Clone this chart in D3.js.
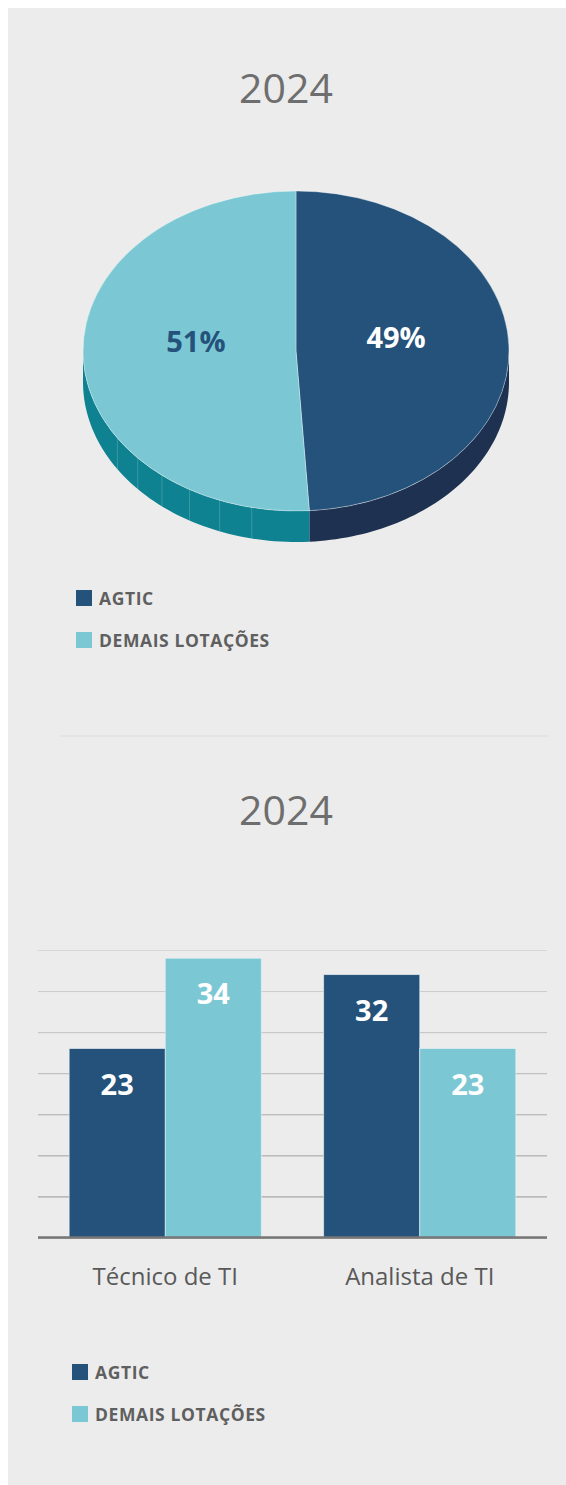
<!DOCTYPE html>
<html lang="pt">
<head>
<meta charset="utf-8">
<title>2024</title>
<style>
body {
  margin: 0;
  background: #ffffff;
}
svg text {
  font-family: "Open Sans", "Noto Sans", sans-serif;
}
.title {
  font-size: 41px;
  fill: #6e6e6e;
  text-anchor: middle;
}
.legend text {
  font-size: 17.5px;
  font-weight: 700;
  fill: #5f5f5f;
  letter-spacing: 0.6px;
}
.axis-x text {
  font-size: 24px;
  fill: #595959;
}
.axis-x path, .axis-x line, .grid path {
  display: none;
}
</style>
</head>
<body>
<div id="chart"></div>
<script src="https://cdn.jsdelivr.net/npm/d3@7"></script>
<script>
// data
var seriesNames = ["AGTIC", "DEMAIS LOTAÇÕES"];
var pieValues = [49, 51];
var categories = ["Técnico de TI", "Analista de TI"];
var agticValues = [23, 32];
var demaisValues = [34, 23];
var yTicks = [0, 5, 10, 15, 20, 25, 30, 35];
var titleText = "2024";

var colors = ["#24527b", "#7bc8d4"];
var sideColors = ["#1f3150", "#0e8290"];

var W = 566, H = 1485;

var svg = d3.select("#chart").append("svg")
    .attr("width", W)
    .attr("height", H);

// grey panel
svg.append("rect")
    .attr("x", 8).attr("y", 8)
    .attr("width", W - 8).attr("height", H - 8)
    .attr("fill", "#ececec");

// ---------- pie (3D look) ----------
svg.append("text").attr("class", "title")
    .attr("x", 286).attr("y", 103)
    .text(titleText);

var cx = 296, cy = 351, rx = 213, ry = 160, depth = 31;

var pie = d3.pie().sort(null).value(function(d) { return d; });
var slices = pie(pieValues);

function px(a) { return cx + rx * Math.sin(a); }
function py(a) { return cy - ry * Math.cos(a); }

// visible side wall, front half only
var side = d3.area()
    .x(function(a) { return px(a); })
    .y0(function(a) { return py(a); })
    .y1(function(a) { return py(a) + depth; });

var gSide = svg.append("g");
slices.forEach(function(s, i) {
  var s0 = Math.max(s.startAngle, Math.PI / 2);
  var s1 = Math.min(s.endAngle, 3 * Math.PI / 2);
  if (s0 >= s1) return;
  var angles = d3.range(0, 61).map(function(k) { return s0 + (s1 - s0) * k / 60; });
  gSide.append("path")
      .attr("d", side(angles))
      .attr("fill", sideColors[i]);
  // faint facet lines like the original rendering
  if (i === 1) {
    d3.range(192, 245, 9).forEach(function(deg) {
      var a = deg * Math.PI / 180;
      if (a <= s0 || a >= s1) return;
      gSide.append("line")
          .attr("x1", px(a)).attr("x2", px(a))
          .attr("y1", py(a)).attr("y2", py(a) + depth)
          .attr("stroke", "#ffffff").attr("stroke-opacity", 0.18)
          .attr("stroke-width", 1);
    });
  }
});

var arc = d3.arc().innerRadius(0).outerRadius(rx);
svg.append("g")
    .attr("transform", "translate(" + cx + "," + cy + ") scale(1," + (ry / rx) + ")")
  .selectAll("path")
  .data(slices)
  .enter().append("path")
    .attr("d", arc)
    .attr("fill", function(d, i) { return colors[i]; })
    .attr("stroke", "#ffffff")
    .attr("stroke-opacity", 0.35)
    .attr("stroke-width", 1)
    .attr("vector-effect", "non-scaling-stroke");

svg.append("g").selectAll("text")
  .data(slices)
  .enter().append("text")
    .attr("x", function(d) { var a = (d.startAngle + d.endAngle) / 2; return cx + rx * 0.47 * Math.sin(a); })
    .attr("y", function(d) { var a = (d.startAngle + d.endAngle) / 2; return cy - ry * 0.47 * Math.cos(a) - 1; })
    .attr("text-anchor", "middle")
    .attr("font-size", 29)
    .attr("font-weight", 700)
    .attr("fill", function(d, i) { return i === 0 ? "#ffffff" : colors[0]; })
    .text(function(d) { return d.data + "%"; });

function legend(x, y) {
  var g = svg.append("g").attr("class", "legend")
      .attr("transform", "translate(" + x + "," + y + ")");
  var item = g.selectAll("g")
    .data(seriesNames)
    .enter().append("g")
      .attr("transform", function(d, i) { return "translate(0," + (i * 42) + ")"; });
  item.append("rect")
      .attr("width", 16).attr("height", 16)
      .attr("fill", function(d, i) { return colors[i]; });
  item.append("text")
      .attr("x", 23).attr("y", 14.5)
      .text(function(d) { return d; });
}
legend(76, 590);

// divider
svg.append("line")
    .attr("x1", 60).attr("x2", 549)
    .attr("y1", 736).attr("y2", 736)
    .attr("stroke", "#dcdcdc").attr("stroke-width", 1);

// ---------- grouped bars ----------
svg.append("text").attr("class", "title")
    .attr("x", 286).attr("y", 825)
    .text(titleText);

var plotLeft = 38, plotRight = 547, plotTop = 950, plotBottom = 1237.5;

var x0 = d3.scaleBand()
    .domain(categories)
    .range([plotLeft, plotRight])
    .paddingInner(0.245)
    .paddingOuter(0.1225);

var x1 = d3.scaleBand()
    .domain(seriesNames)
    .range([0, x0.bandwidth()]);

var y = d3.scaleLinear()
    .domain([0, 35])
    .range([plotBottom, plotTop]);

var gridColor = d3.interpolateRgb("#d6d6d6", "#8a8a8a");
var grid = svg.append("g").attr("class", "grid")
    .attr("transform", "translate(" + plotLeft + ",0)")
    .call(d3.axisLeft(y).tickValues(yTicks).tickSize(-(plotRight - plotLeft)).tickFormat(""));
grid.selectAll(".tick line")
    .attr("stroke", function(d) { return gridColor(1 - d / 35); })
    .attr("stroke-width", 1);

var rows = categories.map(function(c, i) {
  return { cat: c, vals: [agticValues[i], demaisValues[i]] };
});

var groups = svg.append("g").selectAll("g")
  .data(rows)
  .enter().append("g")
    .attr("transform", function(d) { return "translate(" + x0(d.cat) + ",0)"; });

groups.selectAll("rect")
  .data(function(d) { return d.vals.map(function(v, i) { return { key: seriesNames[i], v: v, i: i }; }); })
  .enter().append("rect")
    .attr("x", function(d) { return x1(d.key); })
    .attr("y", function(d) { return y(d.v); })
    .attr("width", x1.bandwidth())
    .attr("height", function(d) { return plotBottom - y(d.v); })
    .attr("fill", function(d) { return colors[d.i]; })
    .attr("stroke", "#eef4f7")
    .attr("stroke-opacity", 0.7)
    .attr("stroke-width", 0.8);

groups.selectAll("text")
  .data(function(d) { return d.vals.map(function(v, i) { return { key: seriesNames[i], v: v }; }); })
  .enter().append("text")
    .attr("x", function(d) { return x1(d.key) + x1.bandwidth() / 2; })
    .attr("y", function(d) { return y(d.v) + 46; })
    .attr("text-anchor", "middle")
    .attr("font-size", 29)
    .attr("font-weight", 700)
    .attr("fill", "#ffffff")
    .text(function(d) { return d.v; });

// baseline
svg.append("line")
    .attr("x1", plotLeft).attr("x2", plotRight)
    .attr("y1", plotBottom).attr("y2", plotBottom)
    .attr("stroke", "#777777").attr("stroke-width", 2.5);

svg.append("g").attr("class", "axis-x")
    .attr("transform", "translate(0," + plotBottom + ")")
    .call(d3.axisBottom(x0).tickSize(0).tickPadding(30));

legend(72, 1364);
</script>
</body>
</html>
